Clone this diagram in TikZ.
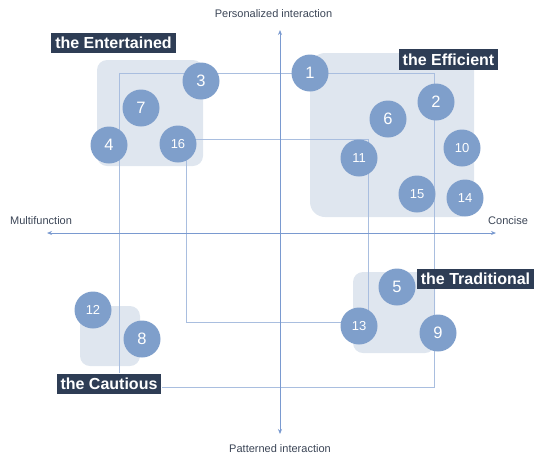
\documentclass[tikz,border=0pt]{standalone}
\usepackage{fontspec}
\setmainfont{Liberation Sans}
\usetikzlibrary{arrows.meta}
\definecolor{circfill}{HTML}{7F9FCB}
\definecolor{boxfill}{HTML}{DFE6EF}
\definecolor{axiscol}{HTML}{7A9AD0}
\definecolor{linkcol}{HTML}{A9BEDF}
\definecolor{labelbg}{HTML}{2E3D55}
\definecolor{textcol}{HTML}{3B4556}
\pgfdeclarelayer{bg}
\pgfsetlayers{bg,main}
\tikzset{
  group/.style={fill=boxfill, draw=none, rounded corners=10pt},
  pt/.style={circle, fill=circfill, draw=none, minimum size=37pt, inner sep=0pt, text=white, font=\fontsize{16.5}{16.5}\selectfont},
  pt2/.style={pt, font=\fontsize{13}{13}\selectfont},
  grouplabel/.style={fill=labelbg, text=white, font=\bfseries\fontsize{16}{16}\selectfont, inner xsep=4pt, inner ysep=4.5pt},
  axislabel/.style={text=textcol, font=\fontsize{11}{11}\selectfont, inner sep=0pt},
  axisline/.style={draw=axiscol, line width=0.9pt, {Stealth[length=5pt,width=4pt]}-{Stealth[length=5pt,width=4pt]}},
  link/.style={draw=linkcol, line width=0.9pt}
}
\begin{document}
\begin{tikzpicture}[x=1pt,y=-1pt]
\useasboundingbox (0,0) rectangle (536,459);
% group labels
\node[grouplabel] (ent) at (113.5,43) {the Entertained};
\node[grouplabel] (eff) at (448.5,59.5) {the Efficient};
\node[grouplabel] (cau) at (109,384) {the Cautious};
\node[grouplabel] (tra) at (475.5,279) {the Traditional};
% circles
\node[pt] (c1) at (310,73) {1};
\node[pt] (c2) at (436,102) {2};
\node[pt] (c3) at (201,81) {3};
\node[pt] (c4) at (109,145) {4};
\node[pt] (c5) at (397,287) {5};
\node[pt] (c6) at (388,119) {6};
\node[pt] (c7) at (141,108) {7};
\node[pt] (c8) at (142,339) {8};
\node[pt] (c9) at (438,333) {9};
\node[pt2] (c10) at (462,148) {10};
\node[pt2] (c11) at (359,158) {11};
\node[pt2] (c12) at (93,310) {12};
\node[pt2] (c13) at (359,326) {13};
\node[pt2] (c14) at (465,198) {14};
\node[pt2] (c15) at (417,194) {15};
\node[pt2] (c16) at (178,144) {16};
% connector coordinates
\coordinate (a1) at (119,73);
\coordinate (a2) at (434,73);
\coordinate (a3) at (434,387);
\coordinate (b1) at (186,139);
\coordinate (b2) at (368,139);
\coordinate (b3) at (368,322);
\coordinate (b4) at (186,322);
\begin{pgfonlayer}{bg}
% group backgrounds
\fill[group] (97,60) rectangle (203,166);
\fill[group, rounded corners=15pt] (310,53) rectangle (474,217);
\fill[group] (80,306) rectangle (140,366);
\fill[group] (353,272) rectangle (435,353);
% connectors (behind circles and labels)
\draw[link] (a1 |- cau.north) -- (a1) -- (a2) -- (a3) -- (a3 -| cau.east);
\draw[link] (b1) -- (b2) -- (b3) -- (b4) -- cycle;
\end{pgfonlayer}
% axes
\coordinate (xl) at (47,233);
\coordinate (xr) at (496,233);
\coordinate (yt) at (280,30);
\coordinate (yb) at (280,434);
\draw[axisline] (xl) -- (xr);
\draw[axisline] (yt) -- (yb);
\node[axislabel] (ptop) at (273.5,14) {Personalized interaction};
\node[axislabel] (pbot) at (280,449) {Patterned interaction};
\node[axislabel, anchor=west] (mf) at (10,221) {Multifunction};
\node[axislabel, anchor=west] (cc) at (488,221) {Concise};
\end{tikzpicture}
\end{document}
